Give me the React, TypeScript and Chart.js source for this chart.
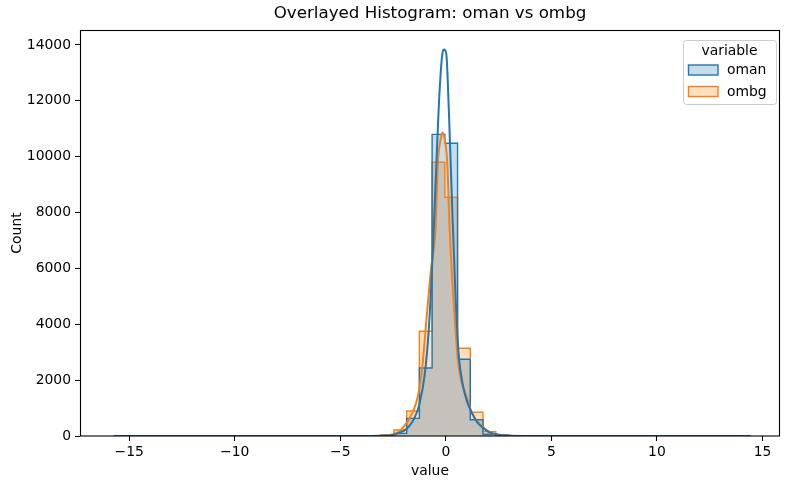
import React, { useEffect, useRef } from "react";
import { Chart, registerables } from "chart.js";

Chart.register(...registerables);

const seriesNames = ["oman", "ombg"];
const seriesColors = ["31,119,180", "255,127,14"];
const overlapColor = "rgb(196,194,187)";

// histogram: 50 common bins between binMin and binMax
const binMin = -15.72;
const binMax = 14.42;
const omanCounts = [
  1, 0, 0, 0, 0, 0, 0, 0, 0, 0,
  0, 0, 0, 0, 0, 0, 0, 1, 2, 3,
  5, 12, 95, 630, 2435, 10800, 10480, 2746, 580, 60,
  15, 6, 3, 2, 1, 0, 0, 0, 0, 0,
  0, 0, 0, 0, 0, 0, 0, 0, 0, 1,
];
const ombgCounts = [
  0, 0, 0, 0, 0, 0, 0, 0, 0, 0,
  0, 0, 0, 0, 0, 0, 0, 1, 3, 8,
  15, 45, 215, 895, 3750, 9800, 8546, 3140, 848, 155,
  40, 12, 5, 2, 1, 0, 0, 0, 0, 0,
  0, 0, 0, 0, 0, 0, 0, 0, 0, 0,
];

// KDE curves (scaled to counts)
const omanKdeX = [-15.72, -4.0, -3.0, -2.5, -2.0, -1.75, -1.5, -1.25, -1.0, -0.8, -0.6, -0.45, -0.3, -0.15, -0.08, 0.02, 0.15, 0.3, 0.45, 0.6, 0.8, 1.0, 1.25, 1.5, 1.75, 2.0, 2.5, 3.0, 4.0, 14.42];
const omanKdeY = [0, 0, 10, 40, 180, 340, 620, 1150, 2200, 3900, 6900, 9700, 12300, 13750, 13840, 13700, 11500, 8200, 5200, 3000, 1850, 1250, 800, 480, 300, 160, 45, 12, 0, 0];
const ombgKdeX = [-8.0, -4.0, -3.0, -2.4, -2.0, -1.6, -1.33, -1.12, -0.96, -0.7, -0.49, -0.38, -0.25, -0.16, -0.05, 0.07, 0.18, 0.46, 0.62, 0.98, 1.25, 1.73, 2.26, 3.0, 4.0, 8.0];
const ombgKdeY = [0, 0, 20, 80, 330, 800, 1400, 2430, 3800, 6000, 7400, 9750, 10600, 10870, 10600, 9750, 7400, 3800, 2430, 1400, 800, 330, 80, 15, 0, 0];

const xTicks = [-15, -10, -5, 0, 5, 10, 15];
const yTicks = [0, 2000, 4000, 6000, 8000, 10000, 12000, 14000];

const FONT = '"DejaVu Sans", "Liberation Sans", sans-serif';

function stepPoints(counts: number[]) {
  const n = counts.length;
  const w = (binMax - binMin) / n;
  const pts: { x: number; y: number }[] = [{ x: binMin, y: 0 }];
  counts.forEach((c, i) => pts.push({ x: binMin + i * w, y: c }));
  pts.push({ x: binMax, y: counts[n - 1] });
  pts.push({ x: binMax, y: 0 });
  return pts;
}

function kdePoints(xs: number[], ys: number[]) {
  return xs.map((x, i) => ({ x, y: ys[i] }));
}

function fmt(v: number) {
  return v < 0 ? "\u2212" + Math.abs(v) : String(v);
}

const overlapCounts = omanCounts.map((c, i) => Math.min(c, ombgCounts[i]));

const decorPlugin = {
  id: "decor",
  afterDraw(chart: any) {
    const { ctx, chartArea } = chart;
    const { left, right, top, bottom } = chartArea;
    ctx.save();
    // frame
    ctx.strokeStyle = "#000";
    ctx.lineWidth = 1.1;
    ctx.strokeRect(Math.round(left) + 0.5, Math.round(top) + 0.5, Math.round(right - left) - 1, Math.round(bottom - top) - 0.5);
    // title
    ctx.fillStyle = "#000";
    ctx.textAlign = "center";
    ctx.textBaseline = "alphabetic";
    ctx.font = `16.7px ${FONT}`;
    ctx.fillText("Overlayed Histogram: oman vs ombg", (left + right) / 2, 17.5);
    // axis labels
    ctx.font = `13.9px ${FONT}`;
    ctx.textBaseline = "middle";
    ctx.fillText("value", (left + right) / 2, 471);
    ctx.save();
    ctx.translate(17, (top + bottom) / 2);
    ctx.rotate(-Math.PI / 2);
    ctx.fillText("Count", 0, 0);
    ctx.restore();
    // legend
    const lx = 683, ly = 40, lw = 93, lh = 64;
    ctx.beginPath();
    ctx.roundRect(lx + 0.5, ly + 0.5, lw, lh, 3);
    ctx.fillStyle = "rgba(255,255,255,0.8)";
    ctx.fill();
    ctx.strokeStyle = "#cccccc";
    ctx.lineWidth = 1;
    ctx.stroke();
    ctx.fillStyle = "#000";
    ctx.textAlign = "center";
    ctx.fillText("variable", lx + lw / 2, 51);
    seriesNames.forEach((name, i) => {
      const py = 65 + i * 21.5;
      ctx.fillStyle = `rgba(${seriesColors[i]},0.25)`;
      ctx.fillRect(688.5, py, 29.5, 10);
      ctx.strokeStyle = `rgb(${seriesColors[i]})`;
      ctx.lineWidth = 1.4;
      ctx.strokeRect(688.5, py, 29.5, 10);
      ctx.fillStyle = "#000";
      ctx.textAlign = "left";
      ctx.fillText(name, 727, py + 5.5);
    });
    ctx.restore();
  },
};

export default function App() {
  const ref = useRef<HTMLCanvasElement>(null);
  useEffect(() => {
    if (!ref.current) return;
    const histFill = (counts: number[], color: string, order: number) => ({
      data: stepPoints(counts),
      borderWidth: 0,
      borderColor: "rgba(0,0,0,0)",
      backgroundColor: color,
      pointRadius: 0,
      stepped: "before",
      fill: "origin",
      order,
    });
    const histLine = (counts: number[], color: string, order: number) => ({
      data: stepPoints(counts),
      borderWidth: 1.4,
      borderColor: color,
      pointRadius: 0,
      stepped: "before",
      fill: false,
      order,
    });
    const kde = (xs: number[], ys: number[], color: string, order: number) => ({
      data: kdePoints(xs, ys),
      borderColor: color,
      borderWidth: 2,
      pointRadius: 0,
      fill: false,
      cubicInterpolationMode: "monotone",
      order,
    });
    const chart = new Chart(ref.current, {
      type: "line",
      data: {
        datasets: [
          kde(omanKdeX, omanKdeY, `rgb(${seriesColors[0]})`, 1),
          kde(ombgKdeX, ombgKdeY, `rgb(${seriesColors[1]})`, 2),
          histLine(omanCounts, `rgb(${seriesColors[0]})`, 3),
          histLine(ombgCounts, `rgb(${seriesColors[1]})`, 4),
          histFill(overlapCounts, overlapColor, 5),
          histFill(ombgCounts, `rgba(${seriesColors[1]},0.25)`, 6),
          histFill(omanCounts, `rgba(${seriesColors[0]},0.25)`, 7),
        ],
      } as any,
      options: {
        animation: false,
        responsive: false,
        maintainAspectRatio: false,
        events: [],
        layout: { padding: { left: 0, right: 10, top: 30, bottom: 0 } },
        plugins: { legend: { display: false }, title: { display: false }, tooltip: { enabled: false } },
        scales: {
          x: {
            type: "linear",
            min: -17.33,
            max: 15.83,
            afterBuildTicks: (s: any) => {
              s.ticks = xTicks.map((v) => ({ value: v }));
            },
            afterFit: (s: any) => {
              s.height = 54;
            },
            grid: { drawOnChartArea: false, drawTicks: true, tickLength: 5, tickColor: "#000", tickWidth: 1.1 },
            border: { display: false },
            ticks: {
              color: "#000",
              font: { family: FONT, size: 13.9 },
              padding: 3,
              maxRotation: 0,
              autoSkip: false,
              callback: (v: any) => fmt(Number(v)),
            },
          },
          y: {
            type: "linear",
            min: 0,
            max: 14537,
            afterBuildTicks: (s: any) => {
              s.ticks = yTicks.map((v) => ({ value: v }));
            },
            afterFit: (s: any) => {
              s.width = 80;
            },
            grid: { drawOnChartArea: false, drawTicks: true, tickLength: 5, tickColor: "#000", tickWidth: 1.1 },
            border: { display: false },
            ticks: {
              color: "#000",
              font: { family: FONT, size: 13.9 },
              padding: 4,
              autoSkip: false,
              callback: (v: any) => String(v),
            },
          },
        },
      } as any,
      plugins: [decorPlugin],
    });
    return () => chart.destroy();
  }, []);
  return (
    <div style={{ position: "fixed", left: 0, top: 0, width: 790, height: 490, background: "#fff" }}>
      <canvas ref={ref} width={790} height={490} style={{ width: 790, height: 490, display: "block" }} />
    </div>
  );
}
